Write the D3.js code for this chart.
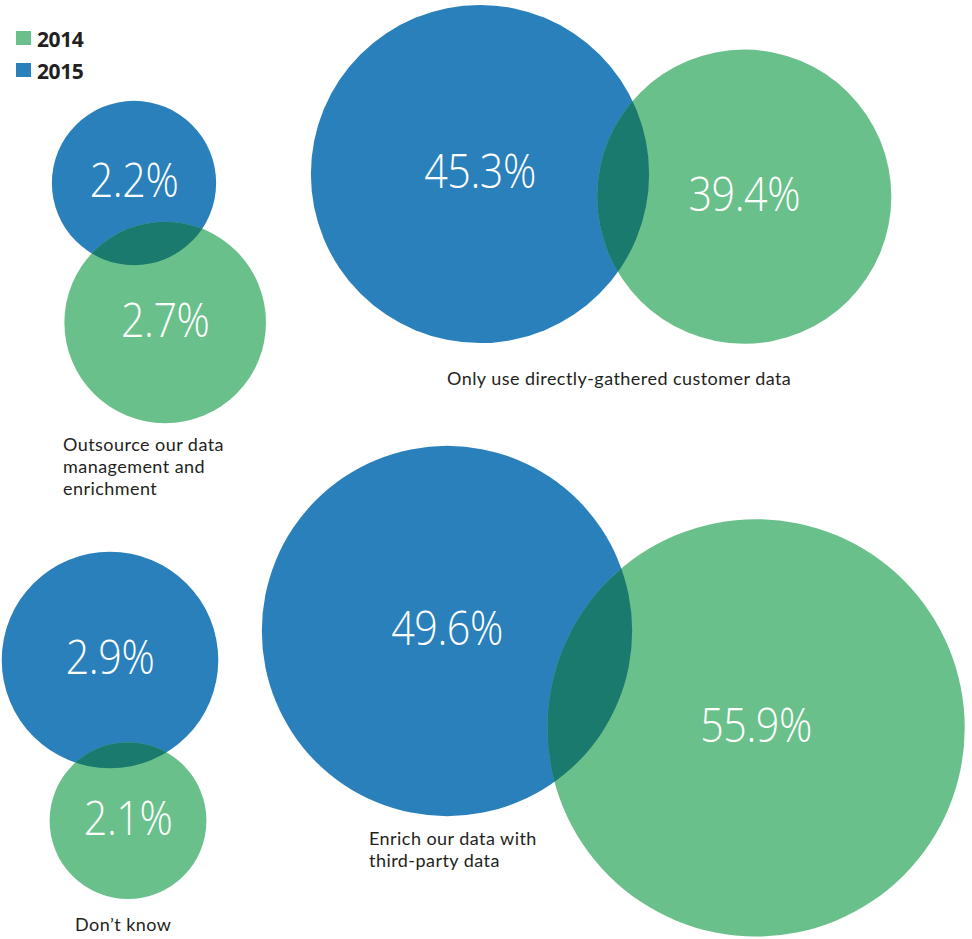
<!DOCTYPE html>
<html>
<head>
<meta charset="utf-8">
<script src="https://cdn.jsdelivr.net/npm/d3@7"></script>
<style>
  html, body { margin: 0; padding: 0; background: #ffffff; }
  svg { display: block; }
</style>
</head>
<body>
<svg id="chart" width="972" height="939"></svg>
<script>
// ---- data ----
const seriesLabels = ["2014", "2015"];
const categories = [
  "Outsource our data management and enrichment",
  "Only use directly-gathered customer data",
  "Don’t know",
  "Enrich our data with third-party data"
];
const values2014 = [2.7, 39.4, 2.1, 55.9];
const values2015 = [2.2, 45.3, 2.9, 49.6];

// ---- style ----
const colors = { "2014": "#6ac08a", "2015": "#2a80ba", overlap: "#1a7a6e", text: "#231f20" };

// ---- layout: where each pair sits (centre of the 2015 circle), the direction
// of the 2014 circle, how much the two overlap, which radius scale applies,
// and how the category caption is placed ----
const panels = [
  { cx: 134, cy: 183, angle: 77.4, overlap: 40, scale: "small",
    caption: { x: 63, y: 451, lines: ["Outsource our data", "management and", "enrichment"] } },
  { cx: 480, cy: 174, angle: 4.9, overlap: 51, scale: "large",
    caption: { x: 447, y: 385, lines: ["Only use directly-gathered customer data"] } },
  { cx: 110, cy: 660, angle: 83.6, overlap: 25, scale: "small",
    caption: { x: 75, y: 931, lines: ["Don’t know"] } },
  { cx: 447, cy: 631, angle: 17.4, overlap: 70, scale: "large",
    caption: { x: 369, y: 845, lines: ["Enrich our data with", "third-party data"] } }
];

// Radius is proportional to the value; the small shares are magnified tenfold.
const rScales = {
  large: d3.scaleLinear().domain([0, 60]).range([0, 224]),
  small: d3.scaleLinear().domain([0, 6]).range([0, 224])
};

const svg = d3.select("#chart");
const defs = svg.append("defs");

const pairs = categories.map((c, i) => {
  const p = panels[i];
  const s = rScales[p.scale];
  const r15 = s(values2015[i]);
  const r14 = s(values2014[i]);
  const d = r15 + r14 - p.overlap;
  const a = p.angle * Math.PI / 180;
  return {
    category: c, i, p,
    b: { cx: p.cx, cy: p.cy, r: r15, v: values2015[i] },
    g: { cx: p.cx + d * Math.cos(a), cy: p.cy + d * Math.sin(a), r: r14, v: values2014[i] }
  };
});

const g = svg.selectAll("g.pair").data(pairs).join("g").attr("class", "pair");

// clip path shaped like the 2015 circle, used to paint the shared area
g.each(function (d) {
  defs.append("clipPath").attr("id", "clip" + d.i)
    .append("circle").attr("cx", d.b.cx).attr("cy", d.b.cy).attr("r", d.b.r);
});

g.append("circle")
  .attr("cx", d => d.b.cx).attr("cy", d => d.b.cy).attr("r", d => d.b.r)
  .attr("fill", colors["2015"]);
g.append("circle")
  .attr("cx", d => d.g.cx).attr("cy", d => d.g.cy).attr("r", d => d.g.r)
  .attr("fill", colors["2014"]);
g.append("circle")
  .attr("clip-path", d => `url(#clip${d.i})`)
  .attr("cx", d => d.g.cx).attr("cy", d => d.g.cy).attr("r", d => d.g.r)
  .attr("fill", colors.overlap);

// percentage labels: light, slightly condensed figures centred in each circle
const fmt = v => v.toFixed(1) + "%";
const valueLabel = (sel, key) => sel.append("text")
  .attr("transform", d => `translate(${d[key].cx},${d[key].cy}) scale(0.86,1)`)
  .attr("text-anchor", "middle")
  .attr("dy", "0.3em")
  .attr("fill", "#ffffff")
  .attr("font-family", "'Open Sans', sans-serif")
  .attr("font-weight", 300)
  .attr("font-size", 48)
  .attr("letter-spacing", -0.5)
  .text(d => fmt(d[key].v));

valueLabel(g, "b");
valueLabel(g, "g");

// category captions, one text element per line
g.each(function (d) {
  d3.select(this).selectAll("text.caption")
    .data(d.p.caption.lines)
    .join("text")
    .attr("class", "caption")
    .attr("x", d.p.caption.x)
    .attr("y", (l, j) => d.p.caption.y + j * 22)
    .attr("fill", colors.text)
    .attr("font-family", "Lato, sans-serif")
    .attr("font-size", 18)
    .attr("letter-spacing", 0.45)
    .text(l => l);
});

// legend
const legend = svg.append("g").attr("transform", "translate(16,31)");
const li = legend.selectAll("g").data(seriesLabels).join("g")
  .attr("transform", (d, j) => `translate(0,${j * 32})`);
li.append("rect").attr("width", 15).attr("height", 14).attr("fill", d => colors[d]);
li.append("text").attr("x", 21).attr("y", 16)
  .attr("font-family", "'Open Sans', sans-serif")
  .attr("font-weight", 700).attr("font-size", 21).attr("letter-spacing", -0.4)
  .attr("fill", colors.text)
  .text(d => d);
</script>
</body>
</html>
